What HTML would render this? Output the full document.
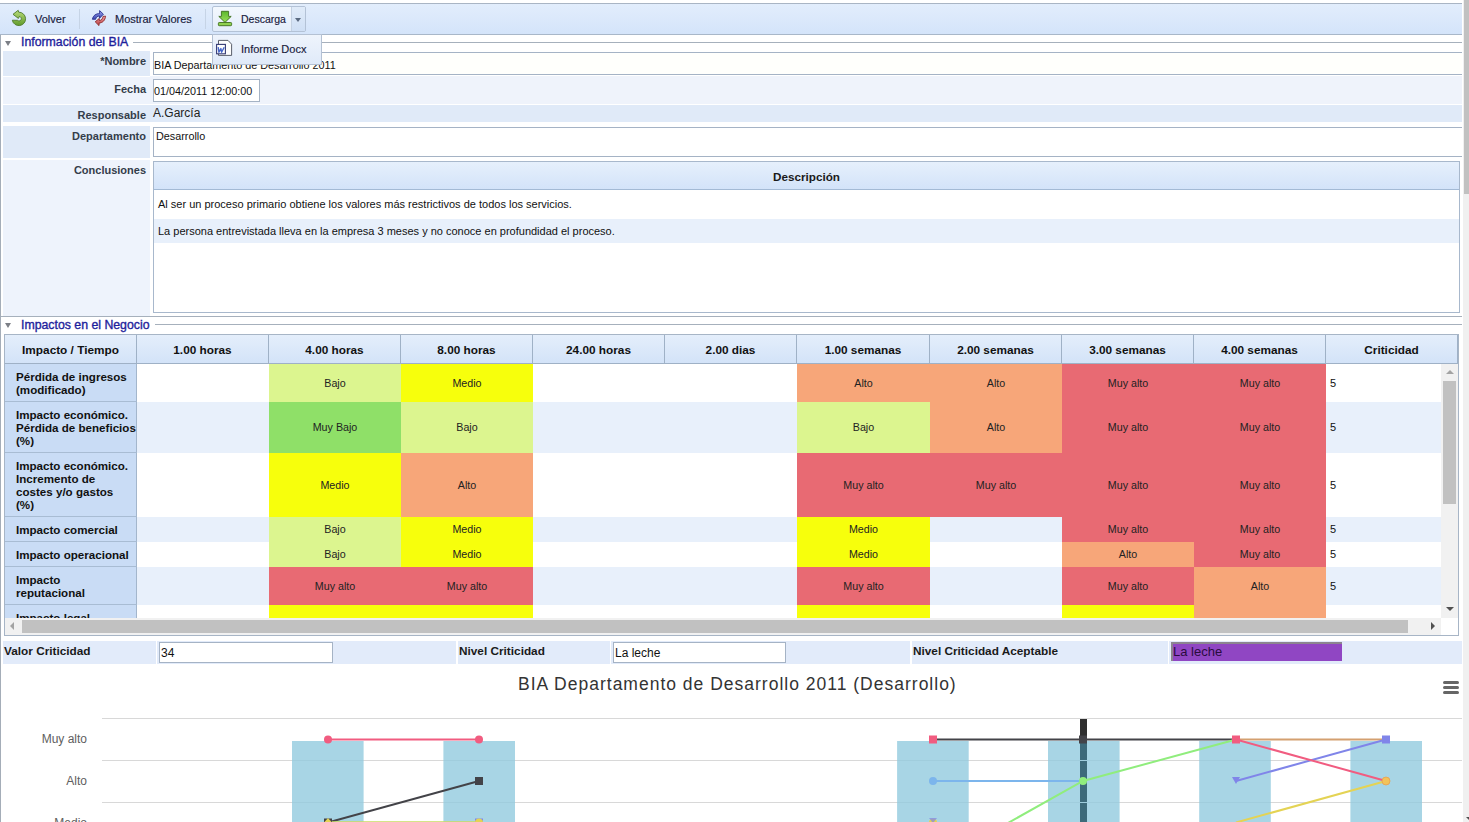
<!DOCTYPE html><html><head><meta charset="utf-8"><style>
*{box-sizing:border-box;margin:0;padding:0}
html,body{width:1469px;height:822px;overflow:hidden;background:#fff;font-family:"Liberation Sans",sans-serif;position:relative}
.a{position:absolute}
.tb{left:0;top:3px;width:1462px;height:32px;border-top:1px solid #a9b5c4;border-bottom:1px solid #a8b7c9;background:linear-gradient(#e2edfc,#d4e4fa)}
.tbt{font-size:11px;color:#18203c;white-space:nowrap;-webkit-text-stroke:0.15px #18203c}
.sep{width:1px;background:#c6d4e6;top:9px;height:20px}
.sec{font-size:12.3px;color:#1e1e9c;white-space:nowrap;-webkit-text-stroke:0.35px #1e1e9c}
.tri{width:0;height:0;border-left:3.5px solid transparent;border-right:3.5px solid transparent;border-top:5px solid #7c7f86}
.hl{height:1px;background:#a6b0bc}
.lab{background:#e0eaf8;font-size:11px;font-weight:bold;color:#343d4a;text-align:right;white-space:nowrap}
.lab2{background:#eef3fc}
.inp{border:1px solid #a5b3c5;background:#fff;font-size:10.8px;color:#111;white-space:nowrap}
.th{top:335px;height:28px;background:linear-gradient(#e4eefb,#d3e3f8);font-size:11.8px;font-weight:bold;color:#111;text-align:center;padding-top:8px;white-space:nowrap;border-right:1px solid #9fb1c6}
.fc{left:5px;width:132px;background:#c9dcf5;border-right:1px solid #a3b6cc;border-bottom:1px solid #a8bcd3;font-size:11.6px;font-weight:bold;color:#111;line-height:13px;padding:6px 0 0 11px;white-space:nowrap}
.c{font-size:10.7px;color:#222;text-align:center;white-space:nowrap}
.cr{font-size:11px;color:#111;white-space:nowrap}
.st{background:#e8f0fb}
.cl{font-size:11.8px;font-weight:bold;color:#1a1a1a;white-space:nowrap;background:#e2ebfa}
.ci{background:#e2ebfa}
.yl{font-size:12px;color:#606060;white-space:nowrap;text-align:right;width:80px}
</style></head><body>
<div class="a" style="left:0;top:3px;width:1px;height:819px;background:#a4adb8"></div>
<div class="a tb"></div>
<div class="a tbt" style="left:35px;top:13px">Volver</div>
<div class="a sep" style="left:79px"></div>
<div class="a tbt" style="left:115px;top:13px">Mostrar Valores</div>
<div class="a sep" style="left:205px"></div>
<div class="a" style="left:212px;top:6px;width:94px;height:26px;border:1px solid #b3c2d6;border-radius:2px;background:linear-gradient(#f3f8fe,#e3edfa)"></div>
<div class="a" style="left:291px;top:7px;width:14px;height:24px;border-left:1px solid #c4d1e2;background:linear-gradient(#e0ebf9,#cfdff5)"></div>
<div class="a" style="left:295px;top:18px;width:0;height:0;border-left:3.5px solid transparent;border-right:3.5px solid transparent;border-top:4px solid #5a6a80"></div>
<div class="a tbt" style="left:241px;top:13px;font-size:10.5px">Descarga</div>
<svg class="a" style="left:8px;top:6px" width="24" height="24" viewBox="0 0 24 24">
<defs><linearGradient id="gv" x1="0" y1="0" x2="0" y2="1"><stop offset="0" stop-color="#b9dc7a"/><stop offset="1" stop-color="#5f9a2a"/></linearGradient></defs>
<path d="M5,8.3 L10.2,4.3 L10.7,6.2 A6.7,6.7 0 1 1 4.3,14.2 L9.6,14.3 A2.2,2.2 0 1 0 11.3,10.5 L10.4,12.4 Z" fill="url(#gv)" stroke="#4f7a2c" stroke-width="0.9" stroke-linejoin="round"/>
</svg>
<svg class="a" style="left:88px;top:6px" width="24" height="24" viewBox="0 0 24 24">
<defs><linearGradient id="gb" x1="0" y1="0" x2="0" y2="1"><stop offset="0" stop-color="#9aa6f0"/><stop offset="1" stop-color="#3a44b0"/></linearGradient>
<linearGradient id="gr" x1="0" y1="0" x2="0" y2="1"><stop offset="0" stop-color="#f0a0a8"/><stop offset="1" stop-color="#b83a3a"/></linearGradient></defs>
<path d="M4.4,13.3 C5.2,9.2 8.2,7.6 11.6,7.6 L11.6,4.6 L15.4,8.2 L11.4,12.4 L11.6,10.0 C9.4,10.0 8.0,11.2 7.6,13.3 Z" fill="url(#gb)" stroke="#2a3290" stroke-width="0.9" stroke-linejoin="round"/>
<path d="M17.6,10.2 C17.0,14.6 14.6,16.8 11.2,17.0 L11.0,19.6 L7.2,15.8 L11.2,12.6 L11.4,14.6 C13.6,14.4 14.8,12.4 15.0,10.4 Z" fill="url(#gr)" stroke="#8a2a2a" stroke-width="0.9" stroke-linejoin="round"/>
</svg>
<svg class="a" style="left:213px;top:7px" width="24" height="24" viewBox="0 0 24 24">
<defs><linearGradient id="gd" x1="0" y1="0" x2="0" y2="1"><stop offset="0" stop-color="#5cb82c"/><stop offset="1" stop-color="#9ae05a"/></linearGradient></defs>
<path d="M8.4,4.3 L15.6,4.3 L15.6,9.4 L18.2,9.4 L12,15.4 L5.8,9.4 L8.4,9.4 Z" fill="url(#gd)" stroke="#3f6e1e" stroke-width="0.9" stroke-linejoin="round"/>
<rect x="5.4" y="15.5" width="13.2" height="3.2" rx="0.8" fill="#8ed04e" stroke="#3f6e1e" stroke-width="0.9"/>
</svg>
<div class="a tri" style="left:5px;top:41px"></div>
<div class="a sec" style="left:21px;top:35px">Información del BIA</div>
<div class="a hl" style="left:133px;top:42px;width:1329px"></div>
<div class="a lab" style="left:3px;top:51px;width:147px;height:25px;padding:4px 4px 0 0">*Nombre</div>
<div class="a inp" style="left:153px;top:52px;width:1320px;height:23px;padding:6px 0 0 0;background:#fffffc">BIA Departamento de Desarrollo 2011</div>
<div class="a lab lab2" style="left:3px;top:77px;width:147px;height:27px;padding:6px 4px 0 0">Fecha</div>
<div class="a" style="left:150px;top:76px;width:1312px;height:28px;background:#eff3fb"></div>
<div class="a inp" style="left:153px;top:79px;width:107px;height:23px;padding:5px 0 0 0">01/04/2011 12:00:00</div>
<div class="a lab" style="left:3px;top:105px;width:147px;height:17px;padding:4px 4px 0 0">Responsable</div>
<div class="a" style="left:150px;top:105px;width:1312px;height:17px;background:#e0eaf8"></div>
<div class="a" style="left:153px;top:106px;font-size:12px;color:#222;white-space:nowrap">A.García</div>
<div class="a lab" style="left:3px;top:126px;width:147px;height:32px;padding:4px 4px 0 0">Departamento</div>
<div class="a inp" style="left:153px;top:127px;width:1320px;height:30px;padding:2px 0 0 2px">Desarrollo</div>
<div class="a lab lab2" style="left:3px;top:160px;width:147px;height:156px;padding:4px 4px 0 0">Conclusiones</div>
<div class="a" style="left:153px;top:161px;width:1307px;height:152px;border:1px solid #a8b8cc;background:#fff"></div>
<div class="a" style="left:154px;top:162px;width:1305px;height:28px;background:linear-gradient(#e6f0fc,#d3e3f9);border-bottom:1px solid #a3bad5;font-size:11.7px;font-weight:bold;text-align:center;padding-top:8px;color:#1a1a1a">Descripción</div>
<div class="a" style="left:154px;top:190px;width:1305px;height:29px;font-size:11px;color:#111;padding:8px 0 0 4px">Al ser un proceso primario obtiene los valores más restrictivos de todos los servicios.</div>
<div class="a" style="left:154px;top:219px;width:1305px;height:24px;background:#e8f0fb;font-size:11px;color:#111;padding:6px 0 0 4px">La persona entrevistada lleva en la empresa 3 meses y no conoce en profundidad el proceso.</div>
<div class="a hl" style="left:1px;top:316px;width:1461px"></div>
<div class="a tri" style="left:5px;top:323px"></div>
<div class="a sec" style="left:21px;top:318px">Impactos en el Negocio</div>
<div class="a hl" style="left:155px;top:324px;width:1307px"></div>
<div class="a" style="left:4px;top:334px;width:1455px;height:302px;border:1px solid #a7b5c6;background:#fff"></div>
<div class="a th" style="left:5px;width:132px">Impacto / Tiempo</div>
<div class="a th" style="left:137px;width:132px">1.00 horas</div>
<div class="a th" style="left:269px;width:132px">4.00 horas</div>
<div class="a th" style="left:401px;width:132px">8.00 horas</div>
<div class="a th" style="left:533px;width:132px">24.00 horas</div>
<div class="a th" style="left:665px;width:132px">2.00 dias</div>
<div class="a th" style="left:797px;width:133px">1.00 semanas</div>
<div class="a th" style="left:930px;width:132px">2.00 semanas</div>
<div class="a th" style="left:1062px;width:132px">3.00 semanas</div>
<div class="a th" style="left:1194px;width:132px">4.00 semanas</div>
<div class="a th" style="left:1326px;width:132px">Criticidad</div>
<div class="a" style="left:5px;top:363px;width:1453px;height:1px;background:#9fb1c6"></div>
<div class="a" style="left:5px;top:364px;width:1436px;height:255px;overflow:hidden">
<div class="a c" style="left:264px;top:0px;width:132px;height:38px;background:#dcf58f;line-height:38px">Bajo</div>
<div class="a c" style="left:396px;top:0px;width:132px;height:38px;background:#f7ff0c;line-height:38px">Medio</div>
<div class="a c" style="left:792px;top:0px;width:133px;height:38px;background:#f7a679;line-height:38px">Alto</div>
<div class="a c" style="left:925px;top:0px;width:132px;height:38px;background:#f7a679;line-height:38px">Alto</div>
<div class="a c" style="left:1057px;top:0px;width:132px;height:38px;background:#e86a73;line-height:38px">Muy alto</div>
<div class="a c" style="left:1189px;top:0px;width:132px;height:38px;background:#e86a73;line-height:38px">Muy alto</div>
<div class="a cr" style="left:1325px;top:0px;height:38px;line-height:38px">5</div>
<div class="a fc" style="left:0;top:0px;height:38px">Pérdida de ingresos<br>(modificado)</div>
<div class="a st" style="left:132px;top:38px;width:1304px;height:51px"></div>
<div class="a c" style="left:264px;top:38px;width:132px;height:51px;background:#8fe068;line-height:51px">Muy Bajo</div>
<div class="a c" style="left:396px;top:38px;width:132px;height:51px;background:#dcf58f;line-height:51px">Bajo</div>
<div class="a c" style="left:792px;top:38px;width:133px;height:51px;background:#dcf58f;line-height:51px">Bajo</div>
<div class="a c" style="left:925px;top:38px;width:132px;height:51px;background:#f7a679;line-height:51px">Alto</div>
<div class="a c" style="left:1057px;top:38px;width:132px;height:51px;background:#e86a73;line-height:51px">Muy alto</div>
<div class="a c" style="left:1189px;top:38px;width:132px;height:51px;background:#e86a73;line-height:51px">Muy alto</div>
<div class="a cr" style="left:1325px;top:38px;height:51px;line-height:51px">5</div>
<div class="a fc" style="left:0;top:38px;height:51px">Impacto económico.<br>Pérdida de beneficios<br>(%)</div>
<div class="a c" style="left:264px;top:89px;width:132px;height:64px;background:#f7ff0c;line-height:64px">Medio</div>
<div class="a c" style="left:396px;top:89px;width:132px;height:64px;background:#f7a679;line-height:64px">Alto</div>
<div class="a c" style="left:792px;top:89px;width:133px;height:64px;background:#e86a73;line-height:64px">Muy alto</div>
<div class="a c" style="left:925px;top:89px;width:132px;height:64px;background:#e86a73;line-height:64px">Muy alto</div>
<div class="a c" style="left:1057px;top:89px;width:132px;height:64px;background:#e86a73;line-height:64px">Muy alto</div>
<div class="a c" style="left:1189px;top:89px;width:132px;height:64px;background:#e86a73;line-height:64px">Muy alto</div>
<div class="a cr" style="left:1325px;top:89px;height:64px;line-height:64px">5</div>
<div class="a fc" style="left:0;top:89px;height:64px">Impacto económico.<br>Incremento de<br>costes y/o gastos<br>(%)</div>
<div class="a st" style="left:132px;top:153px;width:1304px;height:25px"></div>
<div class="a c" style="left:264px;top:153px;width:132px;height:25px;background:#dcf58f;line-height:25px">Bajo</div>
<div class="a c" style="left:396px;top:153px;width:132px;height:25px;background:#f7ff0c;line-height:25px">Medio</div>
<div class="a c" style="left:792px;top:153px;width:133px;height:25px;background:#f7ff0c;line-height:25px">Medio</div>
<div class="a c" style="left:1057px;top:153px;width:132px;height:25px;background:#e86a73;line-height:25px">Muy alto</div>
<div class="a c" style="left:1189px;top:153px;width:132px;height:25px;background:#e86a73;line-height:25px">Muy alto</div>
<div class="a cr" style="left:1325px;top:153px;height:25px;line-height:25px">5</div>
<div class="a fc" style="left:0;top:153px;height:25px">Impacto comercial</div>
<div class="a c" style="left:264px;top:178px;width:132px;height:25px;background:#dcf58f;line-height:25px">Bajo</div>
<div class="a c" style="left:396px;top:178px;width:132px;height:25px;background:#f7ff0c;line-height:25px">Medio</div>
<div class="a c" style="left:792px;top:178px;width:133px;height:25px;background:#f7ff0c;line-height:25px">Medio</div>
<div class="a c" style="left:1057px;top:178px;width:132px;height:25px;background:#f7a679;line-height:25px">Alto</div>
<div class="a c" style="left:1189px;top:178px;width:132px;height:25px;background:#e86a73;line-height:25px">Muy alto</div>
<div class="a cr" style="left:1325px;top:178px;height:25px;line-height:25px">5</div>
<div class="a fc" style="left:0;top:178px;height:25px">Impacto operacional</div>
<div class="a st" style="left:132px;top:203px;width:1304px;height:38px"></div>
<div class="a c" style="left:264px;top:203px;width:132px;height:38px;background:#e86a73;line-height:38px">Muy alto</div>
<div class="a c" style="left:396px;top:203px;width:132px;height:38px;background:#e86a73;line-height:38px">Muy alto</div>
<div class="a c" style="left:792px;top:203px;width:133px;height:38px;background:#e86a73;line-height:38px">Muy alto</div>
<div class="a c" style="left:1057px;top:203px;width:132px;height:38px;background:#e86a73;line-height:38px">Muy alto</div>
<div class="a c" style="left:1189px;top:203px;width:132px;height:38px;background:#f7a679;line-height:38px">Alto</div>
<div class="a cr" style="left:1325px;top:203px;height:38px;line-height:38px">5</div>
<div class="a fc" style="left:0;top:203px;height:38px">Impacto<br>reputacional</div>
<div class="a c" style="left:264px;top:241px;width:132px;height:38px;background:#f7ff0c;line-height:38px">Medio</div>
<div class="a c" style="left:396px;top:241px;width:132px;height:38px;background:#f7ff0c;line-height:38px">Medio</div>
<div class="a c" style="left:792px;top:241px;width:133px;height:38px;background:#f7ff0c;line-height:38px">Medio</div>
<div class="a c" style="left:1057px;top:241px;width:132px;height:38px;background:#f7ff0c;line-height:38px">Medio</div>
<div class="a c" style="left:1189px;top:241px;width:132px;height:38px;background:#f7a679;line-height:38px">Alto</div>
<div class="a cr" style="left:1325px;top:241px;height:38px;line-height:38px">5</div>
<div class="a fc" style="left:0;top:241px;height:38px">Impacto legal</div>
</div>
<div class="a" style="left:1441px;top:364px;width:17px;height:254px;background:#f1f1f1"></div>
<div class="a" style="left:1443px;top:381px;width:13px;height:123px;background:#c1c1c1"></div>
<div class="a" style="left:1446px;top:370px;width:0;height:0;border-left:4px solid transparent;border-right:4px solid transparent;border-bottom:4px solid #a3a3a3"></div>
<div class="a" style="left:1446px;top:607px;width:0;height:0;border-left:4px solid transparent;border-right:4px solid transparent;border-top:4px solid #505050"></div>
<div class="a" style="left:5px;top:618px;width:1436px;height:17px;background:#f1f1f1"></div>
<div class="a" style="left:22px;top:620px;width:1386px;height:13px;background:#c1c1c1"></div>
<div class="a" style="left:10px;top:622px;width:0;height:0;border-top:4px solid transparent;border-bottom:4px solid transparent;border-right:4px solid #a3a3a3"></div>
<div class="a" style="left:1431px;top:622px;width:0;height:0;border-top:4px solid transparent;border-bottom:4px solid transparent;border-left:4px solid #505050"></div>
<div class="a" style="left:1441px;top:618px;width:17px;height:17px;background:#fff"></div>
<div class="a cl" style="left:3px;top:641px;width:153px;height:23px;padding:3px 0 0 1px">Valor Criticidad</div>
<div class="a ci" style="left:157px;top:641px;width:299px;height:23px"></div>
<div class="a inp" style="left:159px;top:642px;width:174px;height:21px;font-size:12px;padding:3px 0 0 1px">34</div>
<div class="a cl" style="left:458px;top:641px;width:152px;height:23px;padding:3px 0 0 1px">Nivel Criticidad</div>
<div class="a ci" style="left:611px;top:641px;width:299px;height:23px"></div>
<div class="a inp" style="left:613px;top:642px;width:173px;height:21px;font-size:12px;padding:3px 0 0 1px">La leche</div>
<div class="a cl" style="left:912px;top:641px;width:256px;height:23px;padding:3px 0 0 1px">Nivel Criticidad Aceptable</div>
<div class="a ci" style="left:1169px;top:641px;width:293px;height:23px"></div>
<div class="a" style="left:1171px;top:642px;width:171px;height:19px;background:#9046c3;border-top:2px solid #8c8490;border-left:2px solid #8c8490;font-size:13px;color:#2a0c3e;padding:0;white-space:nowrap">La leche</div>
<div class="a" style="left:518px;top:674px;font-size:17.5px;letter-spacing:1px;color:#333;white-space:nowrap">BIA Departamento de Desarrollo 2011 (Desarrollo)</div>
<div class="a" style="left:1443px;top:681px;width:16px;height:3px;border-radius:1.5px;background:#666"></div>
<div class="a" style="left:1443px;top:686px;width:16px;height:3px;border-radius:1.5px;background:#666"></div>
<div class="a" style="left:1443px;top:691px;width:16px;height:3px;border-radius:1.5px;background:#666"></div>
<svg class="a" style="left:0;top:0" width="1469" height="822" viewBox="0 0 1469 822">
<line x1="102" y1="718.5" x2="1462" y2="718.5" stroke="#d8d8d8" stroke-width="1"/>
<line x1="102" y1="760.5" x2="1462" y2="760.5" stroke="#d8d8d8" stroke-width="1"/>
<line x1="102" y1="802.5" x2="1462" y2="802.5" stroke="#d8d8d8" stroke-width="1"/>
<rect x="292.0" y="741" width="71.6" height="90" fill="#92cade" fill-opacity="0.8"/>
<rect x="443.4" y="741" width="71.6" height="90" fill="#92cade" fill-opacity="0.8"/>
<rect x="897.1" y="741" width="71.6" height="90" fill="#92cade" fill-opacity="0.8"/>
<rect x="1048.0" y="741" width="71.6" height="90" fill="#92cade" fill-opacity="0.8"/>
<rect x="1199.2" y="741" width="71.6" height="90" fill="#92cade" fill-opacity="0.8"/>
<rect x="1350.4" y="741" width="71.6" height="90" fill="#92cade" fill-opacity="0.8"/>
<rect x="1080" y="719" width="7" height="22" fill="#2f2f2f"/>
<rect x="1080" y="741" width="7" height="19" fill="#3d6a7a"/>
<rect x="1080" y="761" width="7" height="41" fill="#3d6a7a"/>
<rect x="1080" y="803" width="7" height="30" fill="#3d6a7a"/>
</svg>
<div class="a yl" style="left:7px;top:732px">Muy alto</div>
<div class="a yl" style="left:7px;top:774px">Alto</div>
<div class="a yl" style="left:7px;top:816px">Medio</div>
<svg class="a" style="left:0;top:0" width="1469" height="822" viewBox="0 0 1469 822">
<polyline points="328,739.5 479,739.5" fill="none" stroke="#f15c80" stroke-width="2"/>
<polyline points="328,822.5 479,781" fill="none" stroke="#434348" stroke-width="2"/>
<polyline points="328,822.5 479,822.5" fill="none" stroke="#90ed7d" stroke-width="2"/>
<polyline points="328,822.5 479,822.5" fill="none" stroke="#e4d354" stroke-width="2"/>
<polyline points="933,739.5 1083,739.5 1236,739.5" fill="none" stroke="#434348" stroke-width="2"/>
<polyline points="933,781 1083,781" fill="none" stroke="#7cb5ec" stroke-width="2"/>
<polyline points="933,865 1083,781 1236,739.5" fill="none" stroke="#90ed7d" stroke-width="2"/>
<polyline points="1236,739.5 1386,739.5" fill="none" stroke="#d4a070" stroke-width="2"/>
<polyline points="1236,781 1386,739.5" fill="none" stroke="#8085e9" stroke-width="2"/>
<polyline points="1236,739.5 1386,781" fill="none" stroke="#f15c80" stroke-width="2"/>
<polyline points="1236,822.5 1386,781" fill="none" stroke="#e4d354" stroke-width="2"/>
<circle cx="328" cy="739.5" r="4" fill="#f15c80"/>
<circle cx="479" cy="739.5" r="4" fill="#f15c80"/>
<rect x="475" y="777" width="8" height="8" fill="#434348"/>
<rect x="929" y="735.5" width="8" height="8" fill="#f15c80"/>
<rect x="1079" y="735.5" width="8" height="8" fill="#434348"/>
<circle cx="933" cy="781" r="4" fill="#7cb5ec"/>
<circle cx="1083" cy="781" r="4" fill="#90ed7d"/>
<rect x="1232" y="735.5" width="8" height="8" fill="#f15c80"/>
<path d="M1232,777 L1240,777 L1236,784 Z" fill="#8085e9"/>
<rect x="1382" y="735.5" width="8" height="8" fill="#8085e9"/>
<circle cx="1386" cy="781" r="4" fill="#f2c35a"/>
<circle cx="1386" cy="781" r="4" fill="none" stroke="#e8a050" stroke-width="0.8"/>
<rect x="324" y="818.5" width="8" height="8" fill="#434348"/>
<path d="M328,818 L332,822.5 L328,827 L324,822.5 Z" fill="#e4d354"/>
<rect x="475" y="818.5" width="8" height="8" fill="#8085e9"/>
<circle cx="479" cy="822.5" r="4" fill="#e4d354"/>
<circle cx="933" cy="822.5" r="4" fill="#e4d354"/>
<path d="M929,818 L937,818 L933,823 Z" fill="#8085e9" fill-opacity="0.7"/>
</svg>
<div class="a" style="left:212px;top:34px;width:110px;height:31px;border:1px solid #b4c1d3;background:linear-gradient(#eef4fc,#e0eaf9)"></div>
<div class="a tbt" style="left:241px;top:43px">Informe Docx</div>
<svg class="a" style="left:212px;top:36px" width="24" height="24" viewBox="0 0 24 24">
<path d="M6.5,4.4 L16,4.4 L19.6,8.2 L19.6,19.4 L6.5,19.4 Z" fill="#fdfdfd" stroke="#4a4e5a" stroke-width="0.9" stroke-linejoin="round"/>
<rect x="4.6" y="8.4" width="8.8" height="9.4" fill="#fff" stroke="#343a74" stroke-width="1.1"/>
<path d="M6.2,11.2 L6.9,16.2 L8.9,12.6 L9.6,16.2 L12.2,11.2" fill="none" stroke="#4565c8" stroke-width="1.4" stroke-linejoin="round"/>
</svg>
<div class="a" style="left:1462px;top:0;width:1px;height:822px;background:#fff"></div>
<div class="a" style="left:1463px;top:0;width:6px;height:822px;background:#f0f0f0"></div>
<div class="a" style="left:1464px;top:0;width:5px;height:194px;background:#c1c1c1"></div>
<div class="a" style="left:1466px;top:817px;width:0;height:0;border-left:4px solid transparent;border-right:4px solid transparent;border-top:4px solid #505050"></div>
</body></html>
